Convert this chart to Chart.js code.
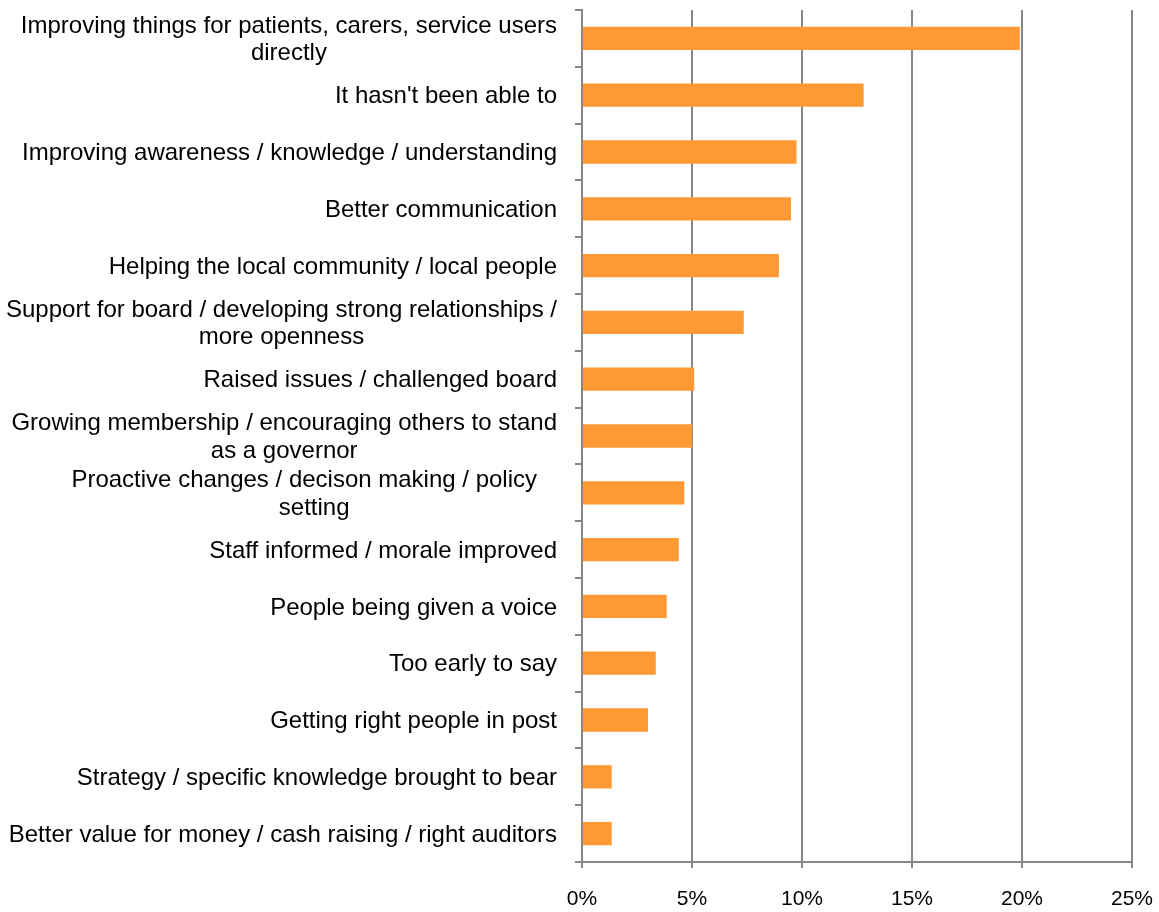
<!DOCTYPE html>
<html>
<head>
<meta charset="utf-8">
<script src="https://cdn.jsdelivr.net/npm/chart.js@4/dist/chart.umd.min.js"></script>
<style>
  html, body { margin: 0; padding: 0; background: #ffffff; }
  #wrap { width: 1159px; height: 912px; position: relative; }
</style>
</head>
<body>
<div id="wrap"><canvas id="chart"></canvas></div>
<script>
// Category labels (each entry is the list of lines shown for that bar)
const categories = [
  ["Improving things for patients, carers, service users", "directly"],
  ["It hasn't been able to"],
  ["Improving awareness / knowledge / understanding"],
  ["Better communication"],
  ["Helping the local community / local people"],
  ["Support for board / developing strong relationships /", "more openness"],
  ["Raised issues / challenged board"],
  ["Growing membership / encouraging others to stand", "as a governor"],
  ["Proactive changes / decison making / policy   ", "setting"],
  ["Staff informed / morale improved"],
  ["People being given a voice"],
  ["Too early to say"],
  ["Getting right people in post"],
  ["Strategy / specific knowledge brought to bear"],
  ["Better value for money / cash raising / right auditors"]
];

// Share of responses, in percent
const shares = [19.9, 12.8, 9.75, 9.5, 8.95, 7.35, 5.1, 5.0, 4.65, 4.4, 3.85, 3.35, 3.0, 1.35, 1.35];

// Value axis tick values (percent)
const xTicks = [0, 5, 10, 15, 20, 25];

const FONT_FAMILY = '"Liberation Sans", Arial, sans-serif';
const AXIS_GREY = '#878787';

// Draws the category labels: each block right-aligned next to the axis,
// with its lines centred on one another.
const categoryLabels = {
  id: 'categoryLabels',
  afterDraw(chart) {
    const yScale = chart.scales.y;
    const ctx = chart.ctx;
    const lineHeight = 27.5;
    const rightEdge = yScale.right - 7 - 18;
    ctx.save();
    ctx.font = '24px ' + FONT_FAMILY;
    ctx.fillStyle = '#000000';
    ctx.textAlign = 'center';
    ctx.textBaseline = 'middle';
    categories.forEach((lines, i) => {
      const yc = yScale.getPixelForValue(i) + 1.5;
      const blockWidth = Math.max(...lines.map(l => ctx.measureText(l).width));
      const cx = rightEdge - blockWidth / 2;
      const y0 = yc - (lines.length - 1) * lineHeight / 2;
      lines.forEach((line, k) => ctx.fillText(line, cx, y0 + k * lineHeight));
    });
    ctx.restore();
  }
};

new Chart(document.getElementById('chart'), {
  type: 'bar',
  data: {
    labels: categories.map(l => l.join(' ')),
    datasets: [{
      data: shares,
      backgroundColor: '#FF9933',
      borderWidth: 0,
      categoryPercentage: 1.0,
      barPercentage: 0.41
    }]
  },
  options: {
    indexAxis: 'y',
    responsive: true,
    maintainAspectRatio: false,
    animation: false,
    layout: { padding: { top: 10, right: 27, left: 0, bottom: 0 } },
    plugins: {
      legend: { display: false },
      tooltip: { enabled: false }
    },
    scales: {
      x: {
        type: 'linear',
        min: xTicks[0],
        max: xTicks[xTicks.length - 1],
        afterBuildTicks(scale) {
          scale.ticks = xTicks.map(v => ({ value: v }));
        },
        ticks: {
          callback: v => v + '%',
          color: '#000000',
          font: { family: FONT_FAMILY, size: 21 },
          padding: 19,
          maxRotation: 0
        },
        grid: {
          color: AXIS_GREY,
          lineWidth: 2,
          drawTicks: true,
          tickLength: 6
        },
        border: { display: true, color: AXIS_GREY, width: 2 },
        afterFit(scale) {
          scale.height = 50;
          scale.paddingLeft = 0;
          scale.paddingRight = 0;
        }
      },
      y: {
        type: 'category',
        offset: true,
        ticks: { display: false },
        grid: {
          offset: true,
          drawOnChartArea: false,
          drawTicks: true,
          tickLength: 7,
          color: AXIS_GREY,
          lineWidth: 2
        },
        border: { display: true, color: AXIS_GREY, width: 2 },
        afterFit(scale) {
          scale.width = 582;
          scale.paddingTop = 0;
          scale.paddingBottom = 0;
        }
      }
    }
  },
  plugins: [categoryLabels]
});
</script>
</body>
</html>
